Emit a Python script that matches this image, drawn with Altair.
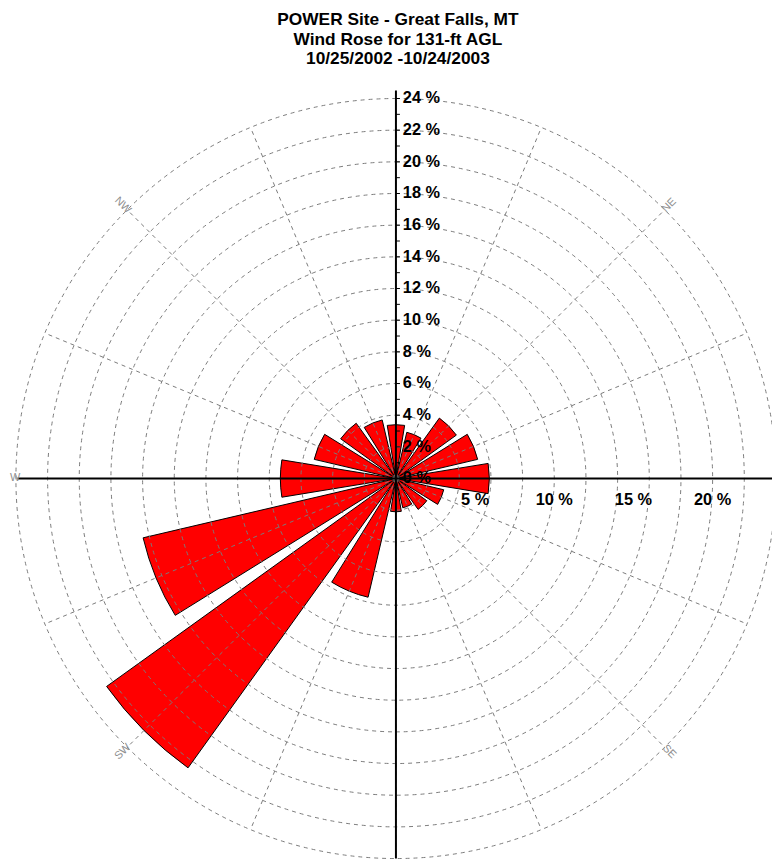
import altair as alt
import pandas as pd

# ---- data ----
directions = ["N", "NNE", "NE", "ENE", "E", "ESE", "SE", "SSE",
              "S", "SSW", "SW", "WSW", "W", "WNW", "NW", "NNW"]
frequency = [3.4, 3.0, 4.7, 5.3, 5.9, 3.1, 2.4, 1.9,
             2.1, 7.7, 22.5, 16.4, 7.3, 5.3, 4.3, 3.8]

ring_values = [2, 4, 6, 8, 10, 12, 14, 16, 18, 20, 22, 24]
spoke_bearings = [0, 22.5, 45, 67.5, 90, 112.5, 135, 157.5,
                  180, 202.5, 225, 247.5, 270, 292.5, 315, 337.5]
minor_tick_values = list(range(1, 25))

vertical_tick_values = [0, 2, 4, 6, 8, 10, 12, 14, 16, 18, 20, 22, 24]
vertical_tick_labels = ["0 %", "2 %", "4 %", "6 %", "8 %", "10 %", "12 %",
                        "14 %", "16 %", "18 %", "20 %", "22 %", "24 %"]
horizontal_tick_values = [5, 10, 15, 20]
horizontal_tick_labels = ["5 %", "10 %", "15 %", "20 %"]

compass_labels = ["W", "NW", "NE", "SE", "SW"]
compass_bearings = [270, 315, 45, 135, 225]
compass_radius = [24.05, 24.4, 24.4, 24.4, 24.4]
compass_rotation = [0, 45, 315, 45, 315]

title_lines = ["POWER Site - Great Falls, MT",
               "Wind Rose for 131-ft AGL",
               "10/25/2002 -10/24/2003"]

FONT = "Liberation Sans"
HALF_WIDTH = 9.3   # degrees, half angular width of each wedge
OUTER = 24

# ---- scales ----
xs = alt.Scale(domain=[-24.5, 23.75], nice=False, zero=False)
ys = alt.Scale(domain=[-23.75, 24], nice=False, zero=False)
rs = alt.Scale(type="linear", domain=[0, 24], range=[0, 384], zero=True, nice=False)

X = lambda f: alt.X(f, type="quantitative", scale=xs, axis=None)
Y = lambda f: alt.Y(f, type="quantitative", scale=ys, axis=None)

# ---- wedges ----
bars_df = pd.DataFrame({"dir": directions, "freq": frequency,
                        "idx": list(range(len(directions)))})
bars = alt.Chart(bars_df).transform_calculate(
    t1=f"(datum.idx*22.5 - {HALF_WIDTH})*PI/180",
    t2=f"(datum.idx*22.5 + {HALF_WIDTH})*PI/180",
    cx="0", cy="0",
).mark_arc(fill="#FF0000", stroke="black", strokeWidth=1).encode(
    theta=alt.Theta("t1:Q", scale=None),
    theta2="t2:Q",
    radius=alt.Radius("freq:Q", scale=rs, stack=None),
    x=X("cx"), y=Y("cy"),
)

# ---- dashed rings ----
GRID = "#7a7a7a"
rings = alt.Chart(pd.DataFrame({"r": ring_values})).transform_calculate(
    cx="0", cy="0"
).mark_arc(filled=False, stroke=GRID, strokeWidth=1, strokeDash=[4, 4],
           theta=0, theta2=6.2832).encode(
    radius=alt.Radius("r:Q", scale=rs, stack=None),
    x=X("cx"), y=Y("cy"),
)

# ---- dashed spokes ----
spokes = alt.Chart(pd.DataFrame({"b": spoke_bearings})).transform_calculate(
    x0="0", y0="0",
    x1=f"{OUTER}*sin(datum.b*PI/180)",
    y1=f"{OUTER}*cos(datum.b*PI/180)",
).mark_rule(stroke=GRID, strokeWidth=1, strokeDash=[4, 4]).encode(
    x=X("x0"), y=Y("y0"), x2="x1:Q", y2="y1:Q",
)

# ---- solid axes ----
axes_df = pd.DataFrame({"xa": [0, -23.9], "ya": [-24, 0], "xb": [0, 24], "yb": [24.5, 0]})
axes = alt.Chart(axes_df).mark_rule(color="black", strokeWidth=2).encode(
    x=X("xa"), y=Y("ya"), x2="xb:Q", y2="yb:Q",
)

minor = alt.Chart(pd.DataFrame({"v": minor_tick_values})).transform_calculate(
    x0="0", x1="0.25"
).mark_rule(color="black", strokeWidth=1).encode(
    x=X("x0"), x2="x1:Q", y=Y("v"),
)

# ---- axis labels ----
vlab = alt.Chart(pd.DataFrame({"v": vertical_tick_values, "lab": vertical_tick_labels})
                 ).transform_calculate(x0="0").mark_text(
    align="left", baseline="middle", dx=7, font=FONT, fontSize=16.5,
    fontWeight="bold", color="black",
).encode(x=X("x0"), y=Y("v"), text="lab:N")

hlab = alt.Chart(pd.DataFrame({"v": horizontal_tick_values, "lab": horizontal_tick_labels})
                 ).transform_calculate(y0="0").mark_text(
    align="center", baseline="middle", dy=22, font=FONT, fontSize=16.5,
    fontWeight="bold", color="black",
).encode(x=X("v"), y=Y("y0"), text="lab:N")

# ---- compass labels ----
comp = alt.Chart(pd.DataFrame({"lab": compass_labels, "b": compass_bearings,
                               "rr": compass_radius,
                               "rot": compass_rotation})).transform_calculate(
    px="datum.rr*sin(datum.b*PI/180)",
    py="datum.rr*cos(datum.b*PI/180)",
).mark_text(align="center", baseline="middle", font=FONT, fontSize=11,
            color="#8f8f8f").encode(
    x=X("px"), y=Y("py"), text="lab:N", angle=alt.Angle("rot:Q", scale=None),
)

chart = alt.layer(bars, rings, spokes, axes, minor, vlab, hlab, comp).properties(
    width=772, height=764,
    autosize=alt.AutoSizeParams(type="none"),
    padding={"left": 0, "top": 87, "right": 0, "bottom": 0},
    title=alt.TitleParams(text=title_lines, font=FONT, fontSize=17.5,
                          fontWeight="bold", color="black", anchor="middle",
                          lineHeight=20, offset=22, dx=8),
).configure_view(stroke=None)

chart.save("out.html", embed_options={"renderer": "svg", "actions": False})
